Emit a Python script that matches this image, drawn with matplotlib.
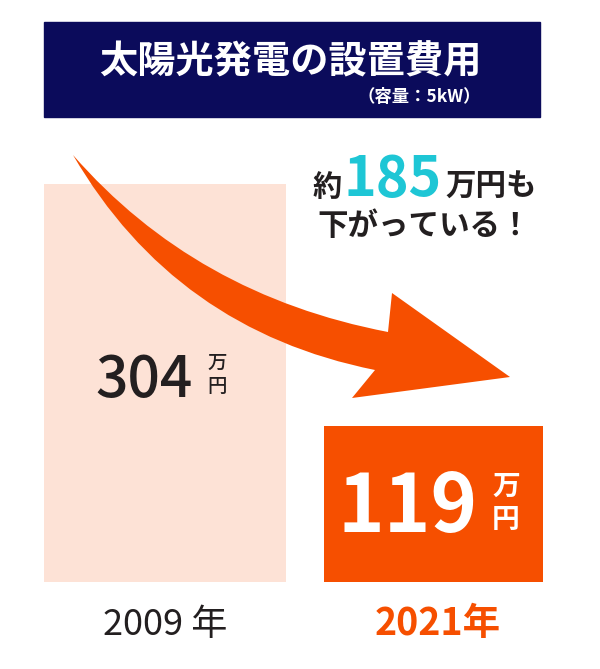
import matplotlib
matplotlib.use("Agg")
import matplotlib.pyplot as plt
from matplotlib.patches import Rectangle, PathPatch
from matplotlib.path import Path

plt.rcParams['font.family'] = ['Noto Sans CJK JP', 'DejaVu Sans']

# --- data ---
years = ['2009 年', '2021年']
costs = [304, 119]          # 万円
unit = '万円'
title = '太陽光発電の設置費用'
subtitle = '（容量：5kW）'
saving = costs[0] - costs[1]

PINK = '#FDE2D6'
ORANGE = '#F64F00'
NAVY = '#0B0B5B'
CYAN = '#1EC6D5'
INK = '#231F20'

W, H = 600, 669
BASE = 582  # pixel row of the bar baseline

fig = plt.figure(figsize=(W / 100, H / 100), dpi=100)

# bars
ax = fig.add_axes([0, (H - BASE) / H, 1, BASE / H])
ax.set_xlim(-165 / 268.5, 435 / 268.5)
ax.set_ylim(0, BASE / 1.31)
ax.axis('off')
xs = [0, 1]
ax.bar(xs, costs, width=[242 / 268.5, 219 / 268.5], color=[PINK, ORANGE])

# value labels (number + stacked unit)
label_style = [
    dict(size=41, weight='medium', color=INK, dx=28, dy=-14, usize=14, ux=52, uy=(20, -4)),
    dict(size=57, weight='bold', color='white', dx=44, dy=-28, usize=20, ux=72.5, uy=(17.5, -15.5)),
]
for x, v, st in zip(xs, costs, label_style):
    ax.annotate(str(v), (x, v / 2), xytext=(st['dx'], st['dy']), textcoords='offset pixels',
                ha='right', va='baseline', fontsize=st['size'], fontweight=st['weight'],
                color=st['color'])
    for ch, oy in zip(unit, st['uy']):
        ax.annotate(ch, (x, v / 2), xytext=(st['ux'], oy), textcoords='offset pixels',
                    ha='center', va='center', fontsize=st['usize'], fontweight=st['weight'],
                    color=st['color'])

# year labels under the bars
year_style = [dict(fontsize=26, fontweight='normal', color=INK),
              dict(fontsize=27, fontweight='bold', color=ORANGE)]
for x, yr, st, dx in zip(xs, years, year_style, [0.5, 4]):
    ax.annotate(yr, (x, 0), xytext=(dx, -53), textcoords='offset pixels',
                ha='center', va='baseline', annotation_clip=False, **st)

# overlay in pixel coordinates
ov = fig.add_axes([0, 0, 1, 1], zorder=2)
ov.set_xlim(0, W)
ov.set_ylim(H, 0)
ov.axis('off')

ov.add_patch(Rectangle((44, 22), 496, 95, color=NAVY))
ov.text(290, 62, title, ha='center', va='center', fontsize=27.5, fontweight='bold', color='white')
ov.text(481, 97, subtitle, ha='right', va='center', fontsize=12.5, fontweight='bold', color='white')

# big curved arrow
verts = [(73, 155), (195, 295), (388, 332),
         (392, 293), (510, 377), (352, 398), (375, 370),
         (175, 330), (73, 155), (73, 155)]
codes = [Path.MOVETO, Path.CURVE3, Path.CURVE3,
         Path.LINETO, Path.LINETO, Path.LINETO, Path.LINETO,
         Path.CURVE3, Path.CURVE3, Path.CLOSEPOLY]
ov.add_patch(PathPatch(Path(verts, codes), facecolor=ORANGE, edgecolor='none'))

# callout text
ov.text(313, 196, '約', ha='left', va='baseline', fontsize=21, fontweight='bold', color=INK)
ov.text(393, 196, str(saving), ha='center', va='baseline', fontsize=40, fontweight='bold', color=CYAN)
ov.text(445, 196, '万円も', ha='left', va='baseline', fontsize=22, fontweight='bold', color=INK)
ov.text(317, 235, '下がっている！', ha='left', va='baseline', fontsize=22, fontweight='bold', color=INK)

fig.savefig('out.png', dpi=100)
